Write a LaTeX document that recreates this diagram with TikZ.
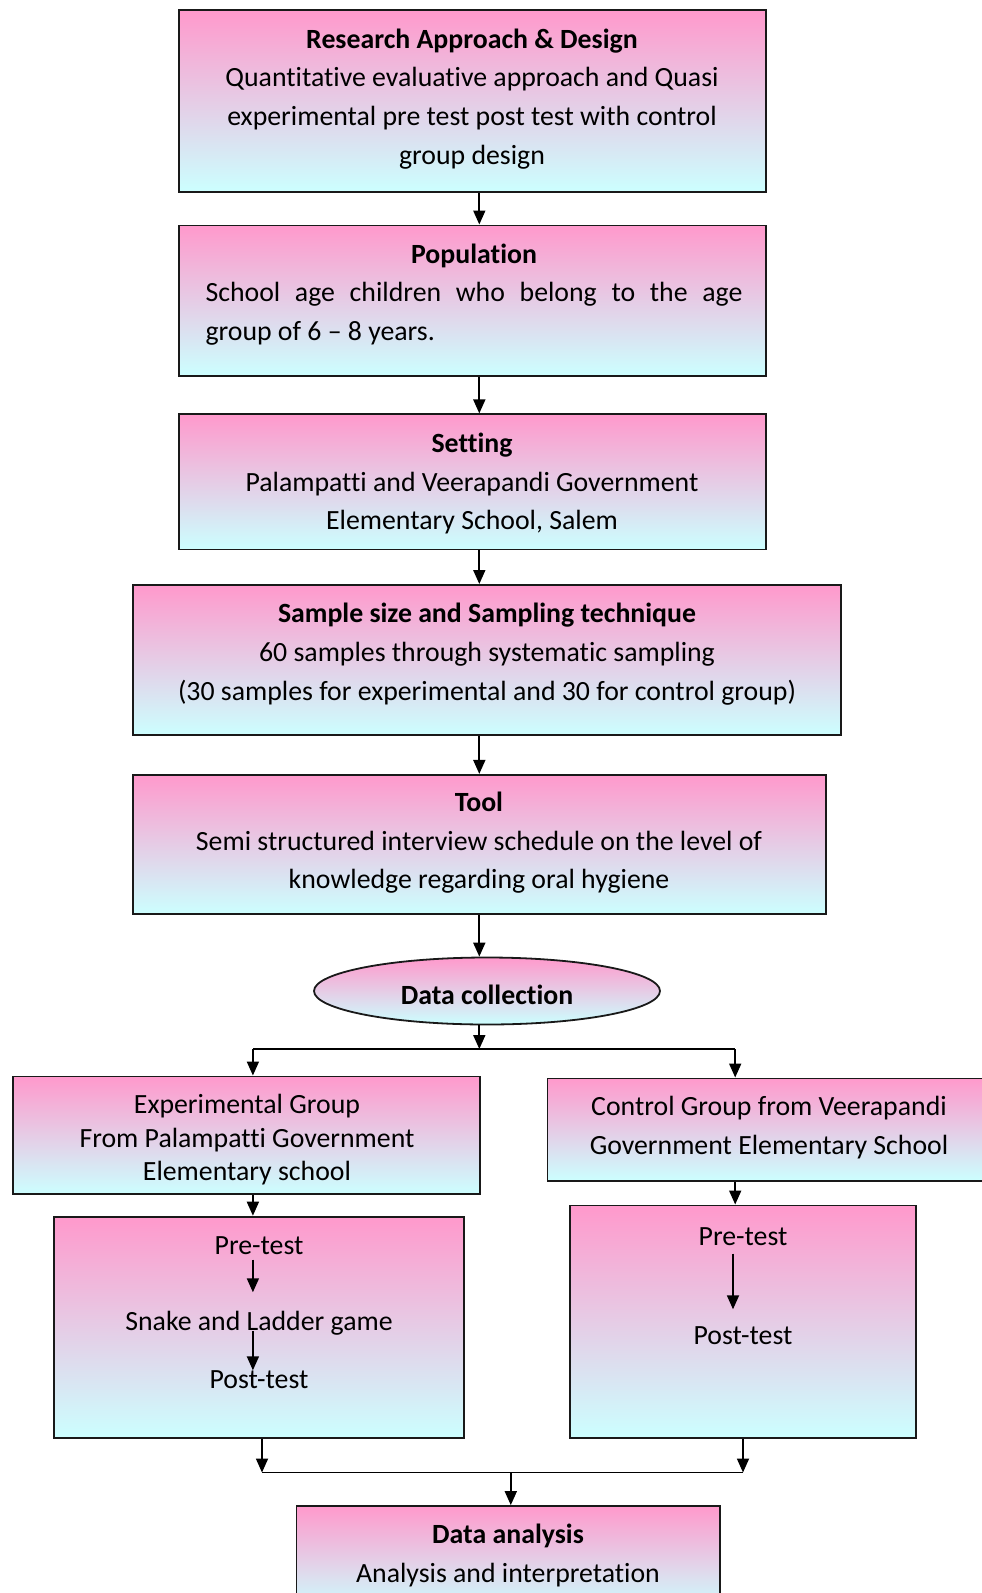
\documentclass[tikz,border=0pt]{standalone}
\usepackage{fontspec}
\setmainfont[Ligatures={NoCommon}]{Carlito}
\usetikzlibrary{arrows.meta,shapes.geometric}
\definecolor{topc}{RGB}{255,153,204}
\definecolor{botc}{RGB}{204,255,255}
\begin{document}
\begin{tikzpicture}[x=1pt,y=-1pt,
  box/.style={draw=black!90,line width=1.8pt,top color=topc,bottom color=botc,inner sep=0pt},
  txt/.style={inner sep=0pt,align=center,yshift=-2.5pt,font=\fontsize{27.8}{38.6}\selectfont},
  txtb/.style={inner sep=0pt,align=center,yshift=-2.5pt,font=\fontsize{27.8}{33.5}\selectfont},
  arr/.style={line width=1.8pt,-{Triangle[width=12pt,length=14pt]}},
  ln/.style={line width=1.8pt}]
\clip (0,0) rectangle (982,1593);
\fill[white] (0,0) rectangle (982,1593);
% spine
\coordinate (sp) at (479.3,0);
% boxes
\node[box,minimum width=587pt,minimum height=181.7pt] (b1) at (472.2,101.05) {};
\node[txt] (b1t) at (472,96.3) {\textbf{Research Approach \& Design}\\Quantitative evaluative approach and Quasi\\experimental pre test post test with control\\group design};
\node[box,minimum width=587pt,minimum height=150.3pt] (b2) at (472.2,300.55) {};
\node[txt] (b2t) at (474,292) {\textbf{Population}\\\makebox[537pt][s]{School age children who belong to the age}\\\makebox[537pt][l]{group of 6 – 8 years.}};
\node[box,minimum width=587pt,minimum height=135.1pt] (b3) at (472.2,481.85) {};
\node[txt] (b3t) at (472,481) {\textbf{Setting}\\Palampatti and Veerapandi Government\\Elementary School, Salem};
\node[box,minimum width=707.8pt,minimum height=150.3pt] (b4) at (486.9,660.05) {};
\node[txt] (b4t) at (487,651.7) {\textbf{Sample size and Sampling technique}\\60 samples through systematic sampling\\(30 samples for experimental and 30 for control group)};
\node[box,minimum width=692.6pt,minimum height=139.2pt] (b5) at (479.3,844.4) {};
\node[txt] (b5t) at (479,840.2) {\textbf{Tool}\\Semi structured interview schedule on the level of\\knowledge regarding oral hygiene};
\node[box,ellipse,minimum width=346pt,minimum height=67pt] (dc) at (487,991) {};
\node[txt] (dct) at (487,992) {\textbf{Data collection}};
% groups
\node[box,minimum width=467.1pt,minimum height=117.8pt] (eg) at (246.75,1135.3) {};
\node[txtb] (egt) at (247,1137.5) {Experimental Group\\From Palampatti Government\\Elementary school};
\node[box,minimum width=447.6pt,minimum height=102.6pt] (cg) at (771.2,1129.7) {};
\node[txt] (cgt) at (769,1125) {Control Group from Veerapandi\\Government Elementary School};
\node[box,minimum width=410.3pt,minimum height=221.4pt] (ei) at (258.95,1327.3) {};
\node[txt] (pre1) at (259,1243) {Pre-test};
\node[txt] (snake) at (259,1321) {Snake and Ladder game};
\node[txt] (post1) at (259,1377) {Post-test};
\node[box,minimum width=346.3pt,minimum height=232.6pt] (ci) at (742.85,1321.7) {};
\node[txt] (pre2) at (743,1234) {Pre-test};
\node[txt] (post2) at (743,1333) {Post-test};
\node[box,minimum width=423.5pt,minimum height=104pt] (da) at (508.25,1558) {};
\node[txt] (dat) at (508,1553) {\textbf{Data analysis}\\Analysis and interpretation};
% connectors
\draw[arr] (b1.south -| sp) -- (b2.north -| sp);
\draw[arr] (b2.south -| sp) -- (b3.north -| sp);
\draw[arr] (b3.south -| sp) -- (b4.north -| sp);
\draw[arr] (b4.south -| sp) -- (b5.north -| sp);
\draw[arr] (b5.south -| sp) -- (dc.north -| sp);
\coordinate (brL) at (252.9,1049);
\coordinate (brR) at (735.2,1049);
\draw[ln] (brL) -- (brR);
\draw[arr] (dc.south -| sp) -- (sp |- brL);
\draw[arr] (brL) -- (eg.north -| brL);
\draw[arr] (brR) -- (cg.north -| brR);
\draw[arr] (eg.south -| brL) -- (ei.north -| brL);
\draw[arr] (cg.south -| brR) -- (ci.north -| brR);
\coordinate (ax) at (252.9,0);
\draw[arr,shorten <=5pt,shorten >=19pt] (pre1.south -| ax) -- (snake.north -| ax);
\draw[arr,shorten <=-5pt] (snake.south -| ax) -- (post1.north -| ax);
\coordinate (cx) at (733,0);
\draw[arr,shorten <=8pt,shorten >=17pt] (pre2.south -| cx) -- (post2.north -| cx);
\coordinate (jL) at (262,1472.5);
\coordinate (jR) at (743,1472.5);
\coordinate (jM) at (510.8,1472.5);
\draw[arr] (ei.south -| jL) -- (jL);
\draw[arr] (ci.south -| jR) -- (jR);
\draw[ln] (jL) -- (jR);
\draw[arr] (jM) -- (da.north -| jM);
\end{tikzpicture}
\end{document}
